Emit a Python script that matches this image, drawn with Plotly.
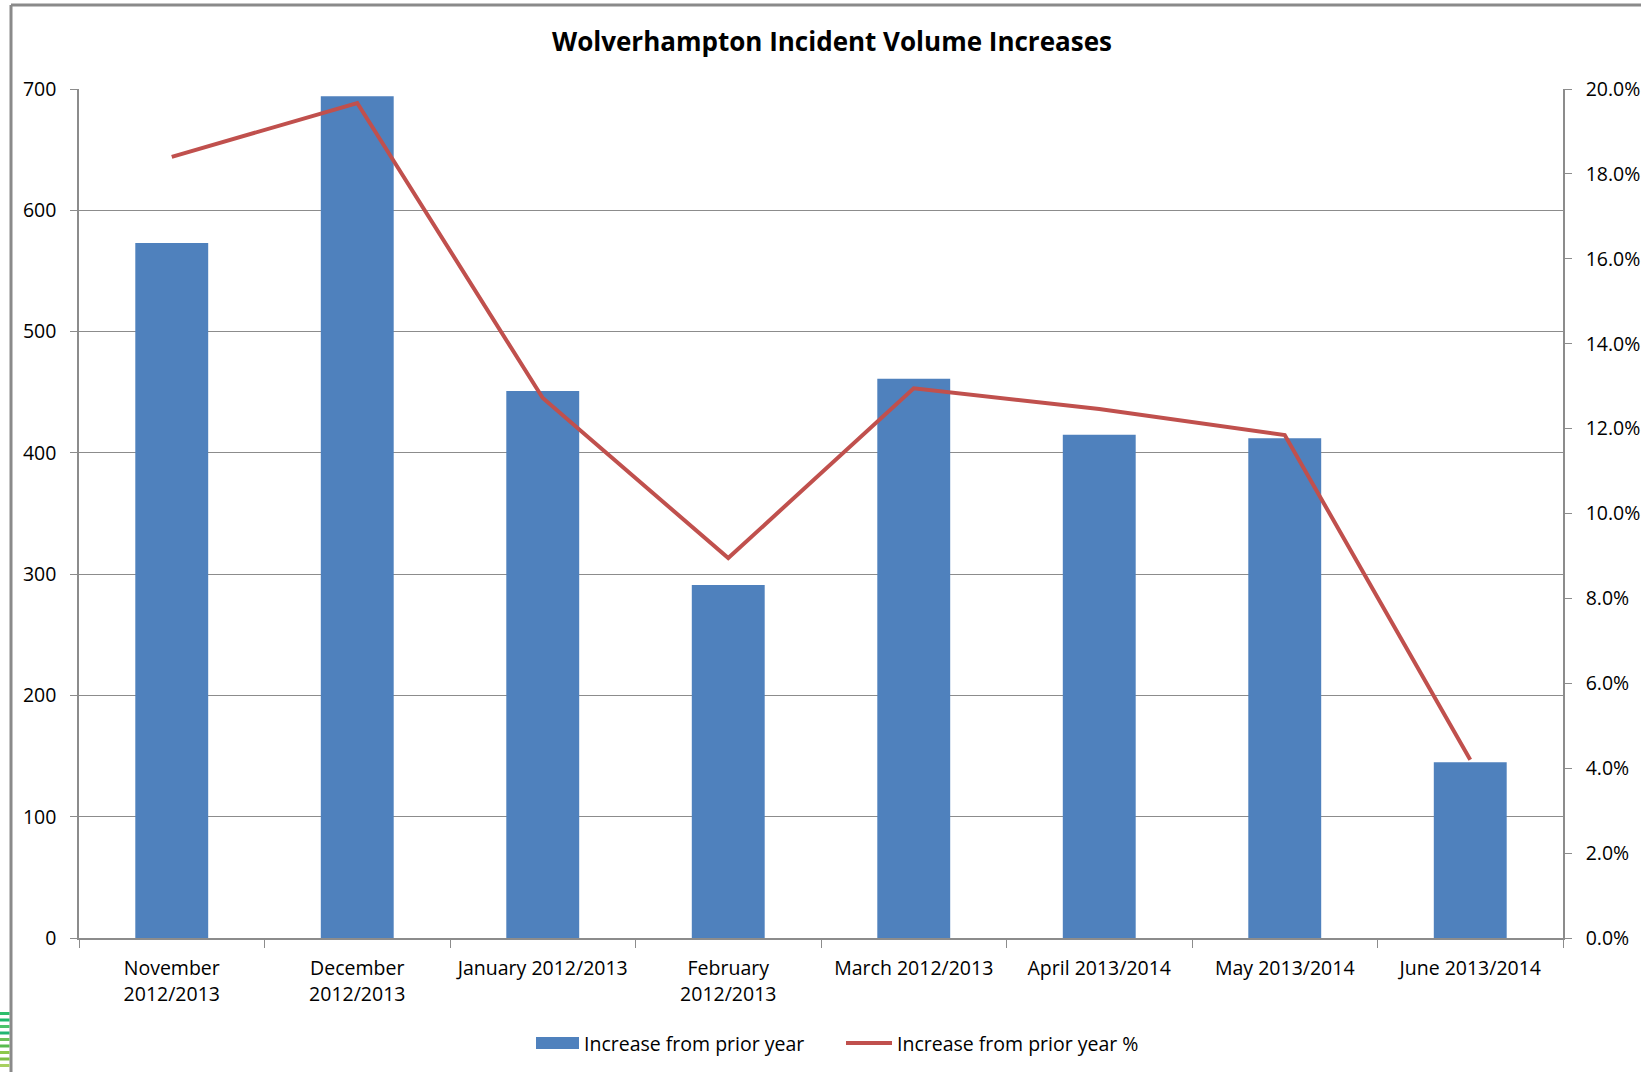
import plotly.graph_objects as go

categories = ["November<br>2012/2013", "December<br>2012/2013", "January 2012/2013",
              "February<br>2012/2013", "March 2012/2013", "April 2013/2014",
              "May 2013/2014", "June 2013/2014"]
increase = [573, 694, 451, 291, 461, 415, 412, 145]
increase_pct = [18.4, 19.67, 12.72, 8.95, 12.95, 12.46, 11.85, 4.2]

W, H = 1641, 1072
ML, MR, MT, MB = 79, 78, 89, 134
PW, PH = W - ML - MR, H - MT - MB

def px(x):
    return (x - ML) / PW

def py(y):
    return (H - MB - y) / PH

FONT = "Open Sans"
FS = 19.5
BLUE = "#4F81BD"
RED = "#C0504D"
GRID = "#8C8C8C"

fig = go.Figure()
fig.add_trace(go.Bar(x=categories, y=increase, name="Increase from prior year",
                     marker=dict(color=BLUE, line=dict(width=0)), yaxis="y"))
fig.add_trace(go.Scatter(x=categories, y=increase_pct, name="Increase from prior year %",
                         mode="lines", line=dict(color=RED, width=4), yaxis="y2"))

shapes = []
# outer frame
shapes.append(dict(type="line", xref="paper", yref="paper", x0=px(11), x1=px(11),
                   y0=py(5), y1=py(H + 5), line=dict(color="#8A8A8A", width=3)))
shapes.append(dict(type="line", xref="paper", yref="paper", x0=px(11), x1=px(W + 5),
                   y0=py(5), y1=py(5), line=dict(color="#8A8A8A", width=3)))
# green decoration stripes at bottom-left
greens = ["#2DBE6C", "#1FB86A", "#4CC46B", "#22B573", "#6CC15A", "#58BB4F", "#8CC84B", "#7DBF45", "#A8D060"]
for i, c in enumerate(greens):
    y = 1012 + i * 6.5
    shapes.append(dict(type="rect", xref="paper", yref="paper", x0=px(0), x1=px(9.5),
                       y0=py(y + 3), y1=py(y), fillcolor=c, line=dict(width=0)))
# custom legend
shapes.append(dict(type="rect", xref="paper", yref="paper", x0=px(536), x1=px(579),
                   y0=py(1049), y1=py(1037), fillcolor=BLUE, line=dict(width=0)))
shapes.append(dict(type="line", xref="paper", yref="paper", x0=px(846), x1=px(892),
                   y0=py(1043), y1=py(1043), line=dict(color=RED, width=4)))

annotations = [
    dict(text="Increase from prior year", xref="paper", yref="paper", x=px(582), y=py(1043),
         xanchor="left", yanchor="middle", showarrow=False,
         font=dict(family=FONT, size=FS, color="#000000")),
    dict(text="Increase from prior year %", xref="paper", yref="paper", x=px(895), y=py(1043),
         xanchor="left", yanchor="middle", showarrow=False,
         font=dict(family=FONT, size=FS, color="#000000")),
]

fig.update_layout(
    width=W, height=H,
    margin=dict(l=ML, r=MR, t=MT, b=MB, autoexpand=False),
    paper_bgcolor="white", plot_bgcolor="white",
    showlegend=False,
    bargap=0.607,
    title=dict(text="<b>Wolverhampton Incident Volume Increases</b>", xref="container",
               x=832 / W, y=1 - 42 / H, xanchor="center", yanchor="middle",
               font=dict(family=FONT, size=26, color="#000000")),
    font=dict(family=FONT, size=FS, color="#000000"),
    xaxis=dict(showgrid=False, showline=True, linecolor=GRID, linewidth=1.5,
               ticks="outside", tickson="boundaries", ticklen=8, tickcolor=GRID,
               ticklabelstandoff=12, automargin=False,
               tickfont=dict(family=FONT, size=FS, color="#000000")),
    yaxis=dict(range=[0, 700], dtick=100, showgrid=True, gridcolor=GRID, gridwidth=1.2,
               showline=True, linecolor=GRID, linewidth=1.5, ticks="outside", ticklen=7,
               tickcolor=GRID, zeroline=False, ticklabelstandoff=10, automargin=False,
               tickfont=dict(family=FONT, size=FS, color="#000000")),
    yaxis2=dict(range=[0, 20], dtick=2, overlaying="y", side="right", showgrid=False,
                showline=True, linecolor=GRID, linewidth=1.5, ticks="outside", ticklen=7,
                tickcolor=GRID, zeroline=False, tickformat=".1f", ticksuffix="%",
                ticklabelstandoff=10, automargin=False,
                tickfont=dict(family=FONT, size=FS, color="#000000")),
    shapes=shapes,
    annotations=annotations,
)

fig.write_html("out.html", config={"displayModeBar": False},
               post_script="document.body.style.margin='0';document.body.style.overflow='hidden';")
